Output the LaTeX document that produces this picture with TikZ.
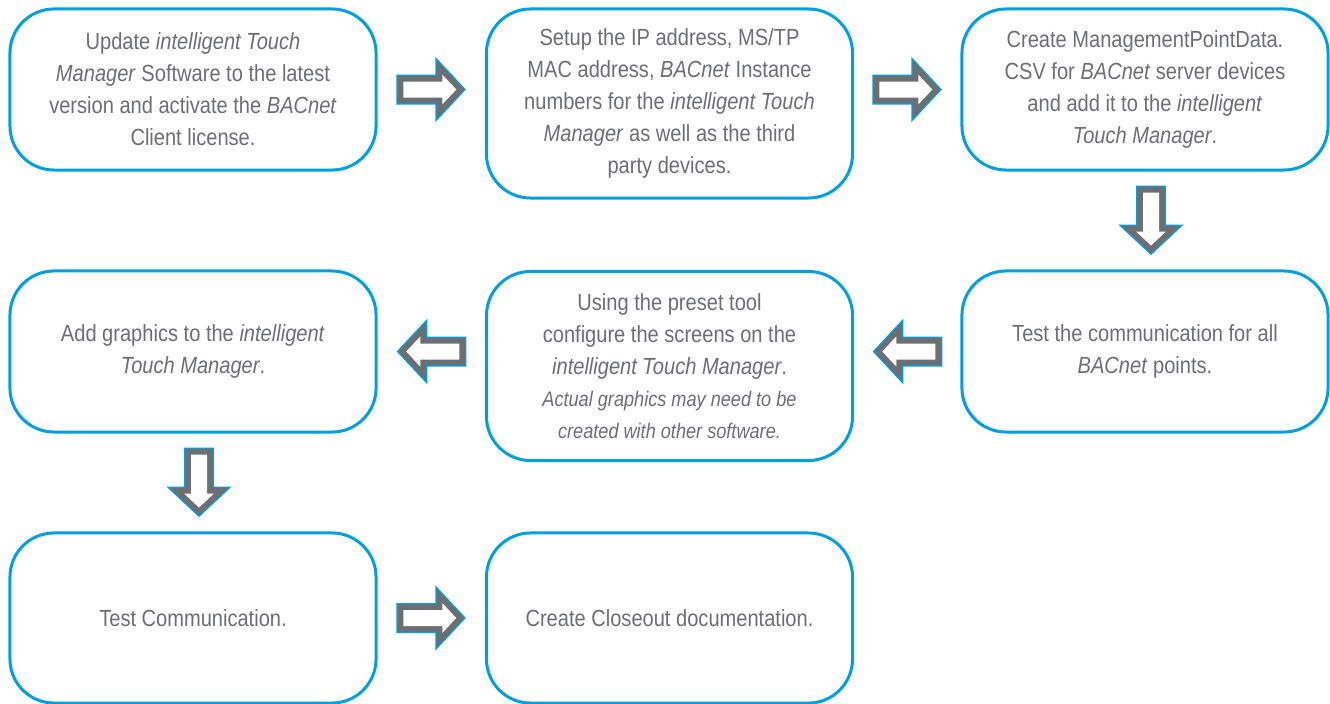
\documentclass[tikz,border=0pt]{standalone}
\usepackage{fontspec}
\setmainfont{Liberation Sans}[FakeStretch=0.86]
\usetikzlibrary{positioning,calc}
\definecolor{stepblue}{RGB}{0,160,223}
\definecolor{textgray}{RGB}{109,110,113}
\newcommand{\note}[1]{{\fontsize{15}{20.6}\selectfont\itshape #1}}

\begin{document}
\begin{tikzpicture}[
    x=0.025cm, y=0.025cm,
    stepbox/.style={draw=stepblue, line width=0.075cm, rounded corners=1.1cm, minimum width=9.15cm, minimum height=4.025cm, align=center, text=textgray, font=\fontsize{16.6}{22.8}\selectfont},
    tallbox/.style={stepbox, minimum height=4.725cm},
    lastbox/.style={stepbox, minimum height=4.25cm},
    hollow/.style={line join=miter,
        preaction={draw=stepblue, line width=0.35cm, line join=miter},
        postaction={draw=textgray, line width=0.28cm, line join=miter},
        postaction={fill=white}}
]
\useasboundingbox (0,0) rectangle (1330,-704);

% Row 1
\node[stepbox] (b1) at (193,-89.5) {Update \textit{intelligent Touch}\\ \textit{Manager} Software to the latest\\ version and activate the \textit{BACnet}\\ Client license.};
\node[tallbox] (b2) at (669.5,-103.5) {Setup the IP address, MS/TP\\ MAC address, \textit{BACnet} Instance\\ numbers for the \textit{intelligent Touch}\\ \textit{Manager} as well as the third\\ party devices.};
\node[stepbox] (b3) at (1145,-89.5) {Create ManagementPointData.\\ CSV for \textit{BACnet} server devices\\ and add it to the \textit{intelligent}\\ \textit{Touch Manager}.};

% Row 2
\node[stepbox] (b4) at (1145,-351.5) {Test the communication for all\\ \textit{BACnet} points.};
\node[tallbox] (b5) at (669.5,-366) {Using the preset tool\\ configure the screens on the\\ \textit{intelligent Touch Manager}.\\ \note{Actual graphics may need to be}\\ \note{created with other software.}};
\node[stepbox] (b6) at (193,-351.5) {Add graphics to the \textit{intelligent}\\ \textit{Touch Manager}.};

% Row 3
\node[lastbox] (b7) at (193,-618) {Test Communication.};
\node[lastbox] (b8) at (669.5,-618) {Create Closeout documentation.};

% Block arrows, sideways
\foreach \a/\b/\rot in {b1.east/b2.west/0, b3.west/b2.east/0, b4.west/b5.east/180, b6.east/b5.west/180, b7.east/b8.west/0} {
    \coordinate (m) at ($(\a)!0.5!(\b |- \a)$);
    \path[hollow, shift={(m)}, rotate=\rot] (-28,8) -- (11,8) -- (11,15) -- (25,0) -- (11,-15) -- (11,-8) -- (-28,-8) -- cycle;
}
% Block arrows, downwards
\foreach \a/\b in {b3.south/b4.north, b6.south/b7.north} {
    \coordinate (m) at ($(\a)!0.5!(\b)$);
    \path[hollow, shift={(m)}, xshift=0.15cm, rotate=-90] (-28,8) -- (11,8) -- (11,15) -- (25,0) -- (11,-15) -- (11,-8) -- (-28,-8) -- cycle;
}

\end{tikzpicture}
\end{document}
